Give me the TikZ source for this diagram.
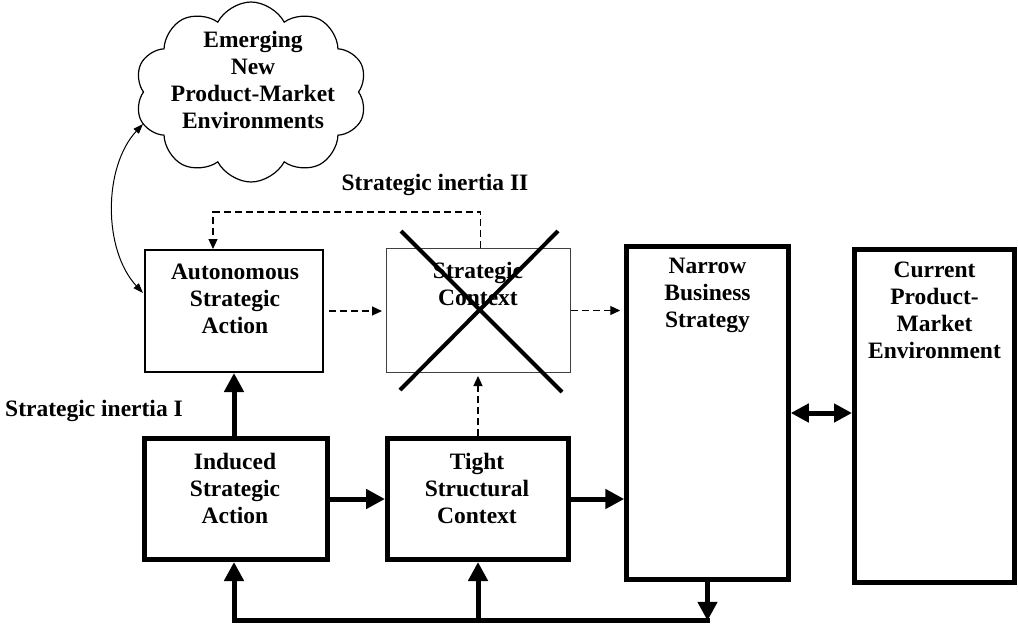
\documentclass[tikz,border=0pt]{standalone}
\usepackage{fontspec}
\setmainfont{Liberation Serif}
\usetikzlibrary{arrows.meta,shapes.symbols,calc}
\begin{document}
\begin{tikzpicture}[x=1pt,y=-1pt,
  txt/.style={font=\fontsize{23.5}{27}\selectfont\bfseries, align=center, inner sep=0pt},
  thinbox/.style={draw, line width=2pt, inner sep=0pt},
  thickbox/.style={draw, line width=5pt, inner sep=0pt},
  thickarrow/.style={line width=5pt, -{Triangle[length=19pt,width=19pt]}},
  thickline/.style={line width=5pt, line cap=rect},
  dblarrow/.style={line width=5pt, {Triangle[length=18pt,width=18pt]}-{Triangle[length=18pt,width=18pt]}},
  dasharrow/.style={line width=1.2pt, dash pattern=on 7pt off 4pt, -{Triangle[length=10pt,width=9pt]}},
  curvearrow/.style={line width=1pt, {Triangle[length=10pt,width=7pt]}-{Triangle[length=10pt,width=7pt]}},
  crossline/.style={line width=4pt}
]
\useasboundingbox (0,0) rectangle (1018,627);

% boxes
\node[thinbox, minimum width=178pt, minimum height=122pt] (asa) at (234,311) {};
\node[draw=black!75, line width=1pt, inner sep=0pt, minimum width=184pt, minimum height=124pt] (sctx) at (478.5,310.5) {};
\node[thickbox, minimum width=161.5pt, minimum height=332.5pt] (narrow) at (707.5,413) {};
\node[thickbox, minimum width=160pt, minimum height=333pt] (current) at (934.5,416) {};
\node[thickbox, minimum width=183pt, minimum height=121pt] (induced) at (236,499) {};
\node[thickbox, minimum width=181pt, minimum height=121pt] (tight) at (478,499) {};
\node[cloud, cloud puffs=10, cloud puff arc=125, draw, line width=1.2pt, minimum width=232pt, minimum height=180pt] (cloud) at (251,92) {};

% box texts
\node[txt] (cloudtxt) at (253,80) {Emerging\\New\\Product-Market\\Environments};
\node[txt] (asatxt) at ($(asa.north)+(1,49.5)$) {Autonomous\\Strategic\\Action};
\node[txt] (sctxtxt) at ($(sctx.north)+(-0.5,35.5)$) {Strategic\\Context};
\node[txt] (narrowtxt) at ($(narrow.north)+(0,51)$) {Narrow\\Business\\Strategy};
\node[txt] (currenttxt) at ($(current.north)+(0,63)$) {Current\\Product-\\Market\\Environment};
\node[txt] (inducedtxt) at ($(induced.north)+(-1,52)$) {Induced\\Strategic\\Action};
\node[txt] (tighttxt) at ($(tight.north)+(-1,52)$) {Tight\\Structural\\Context};

% free labels
\node[txt] (inertiaII) at (435,185) {Strategic inertia II};
\node[txt] (inertiaI) at (94,411) {Strategic inertia I};

% the crossed-out strategic context
\draw[crossline] (401,231) -- (562,392);
\draw[crossline] (558,231) -- (400,390);

% solid connectors
\draw[thickarrow] (asa.south |- induced.north) -- (asa.south);
\draw[thickarrow] (induced.east) -- (tight.west);
\draw[thickarrow] (tight.east) -- (tight.east -| narrow.west);
\draw[dblarrow] (narrow.east) -- (narrow.east -| current.west);

% feedback loop along the bottom
\coordinate (bus) at ($(narrow.south)+(0,39)$);
\draw[thickline] (bus) -- (bus -| asa.south);
\draw[thickarrow] (narrow.south) -- (bus);
\draw[thickarrow] (bus -| asa.south) -- (asa.south |- induced.south);
\draw[thickarrow] (bus -| tight.north) -- (tight.south);

% dashed connectors
\draw[dasharrow, shorten <=5pt, shorten >=4pt] (asa.east) -- (asa.east -| sctx.west);
\draw[dasharrow, shorten >=4pt] (sctx.east) -- (sctx.east -| narrow.west);
\draw[dasharrow, shorten >=3pt] (tight.north) -- (tight.north |- sctx.south);
\draw[dasharrow] ($(sctx.north)+(2,0)$) -- ++(0,-36) -| ([xshift=-21pt]asa.north);

% link to the cloud
\coordinate (cl) at (143,124);
\draw[curvearrow] (cl) .. controls (103,167) and (103,250) .. ($(asa.west)+(-1,-18)$);
\end{tikzpicture}
\end{document}
